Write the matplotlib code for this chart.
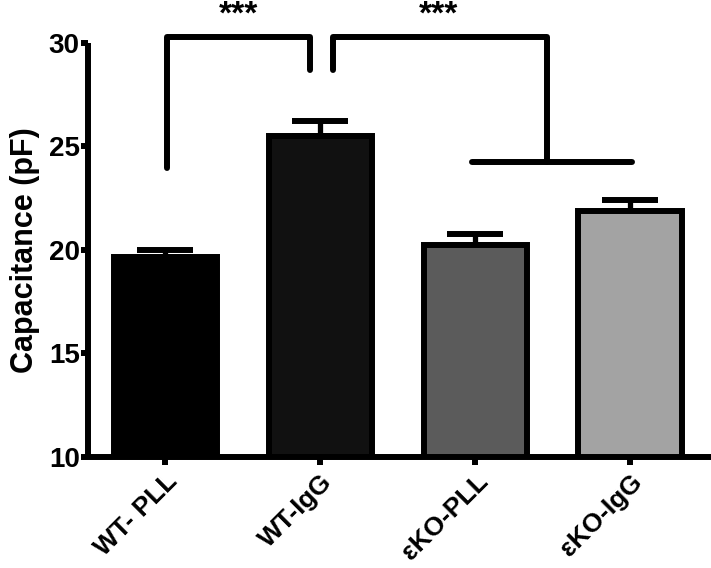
import numpy as np
import matplotlib
matplotlib.use('Agg')
import matplotlib.pyplot as plt

plt.rcParams['font.family'] = ['Liberation Sans', 'DejaVu Sans']
plt.rcParams['font.weight'] = 'bold'

groups = ['WT- PLL', 'WT-IgG', 'εKO-PLL', 'εKO-IgG']
means = [19.65, 25.5, 20.25, 21.9]
sems = [0.35, 0.75, 0.5, 0.5]
fills = ['#000000', '#111111', '#5b5b5b', '#a3a3a3']
yticks = [10, 15, 20, 25, 30]
sig_labels = ['***', '***']

fig = plt.figure(figsize=(7.11, 5.68), dpi=100)
ax = fig.add_axes([88 / 711, 111 / 568, 623 / 711, 414 / 568])

x = np.arange(len(groups))
lw = 4.3
ax.bar(x, np.array(means) - 10, bottom=10, width=0.67, color=fills,
       edgecolor='black', linewidth=lw, zorder=3)
ax.errorbar(x, means, yerr=[np.zeros(len(sems)), sems], fmt='none',
            ecolor='black', elinewidth=3.8, capsize=20, capthick=4.3, zorder=2)

ax.set_xlim(-0.5, 3.52)
ax.set_ylim(10, 30)
ax.set_yticks(yticks)
ax.set_xticks(x)
ax.set_xticklabels(groups, rotation=45, ha='right', rotation_mode='anchor',
                   fontsize=19, fontweight='bold')
ax.set_yticklabels([str(t) for t in yticks], fontsize=20, fontweight='bold')
ax.set_ylabel('Capacitance (pF)', fontsize=22, fontweight='bold', labelpad=6)

for s in ['top', 'right']:
    ax.spines[s].set_visible(False)
for s in ['left', 'bottom']:
    ax.spines[s].set_linewidth(lw)
    ax.spines[s].set_capstyle('butt')
ax.tick_params(axis='y', length=5, width=lw, pad=1)
ax.tick_params(axis='x', length=6, width=lw, pad=3)

# significance brackets
kw = dict(color='black', lw=4.3, clip_on=False, solid_capstyle='round',
          solid_joinstyle='round', zorder=4)
top = 30.3
ax.plot([0.01, 0.01, 0.935, 0.935], [23.95, top, top, 28.7], **kw)
ax.plot([1.08, 1.08, 2.46, 2.46], [28.7, top, top, 24.25], **kw)
ax.plot([1.98, 3.01], [24.25, 24.25], **kw)
ax.text(0.47, 30.95, sig_labels[0], ha='center', va='baseline', fontsize=24,
        fontweight='bold')
ax.text(1.76, 30.95, sig_labels[1], ha='center', va='baseline', fontsize=24,
        fontweight='bold')

fig.savefig('out.png', dpi=100)
